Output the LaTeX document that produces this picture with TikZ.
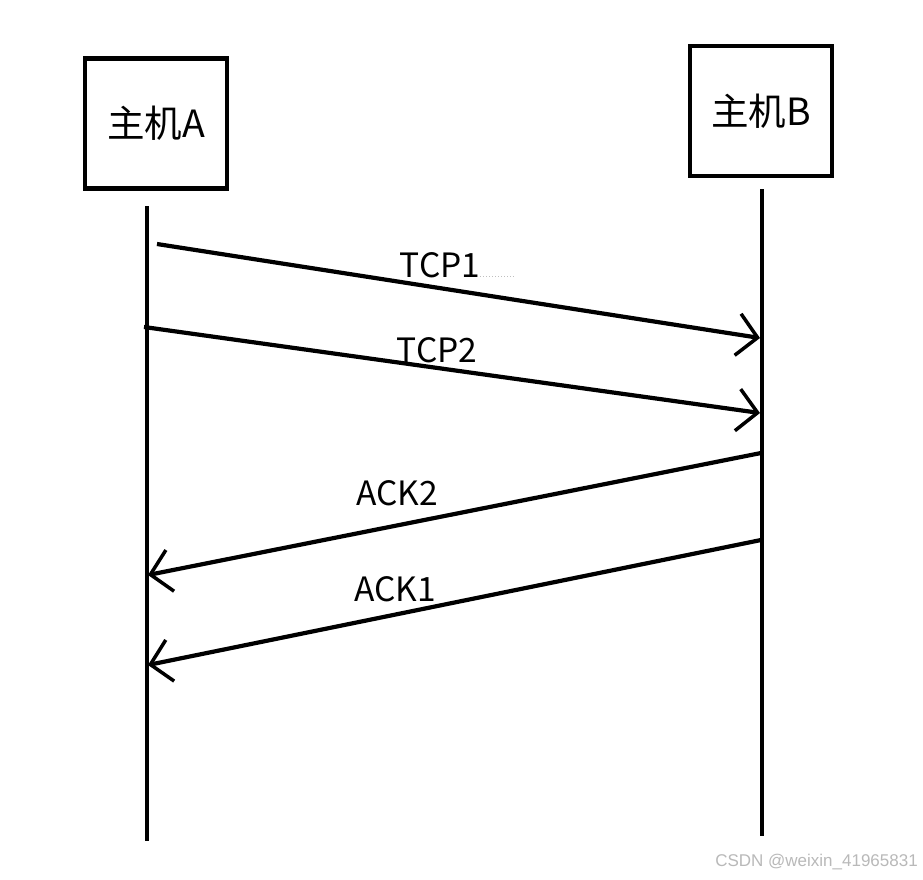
\documentclass[tikz,border=0pt]{standalone}
\usepackage{fontspec}
\usetikzlibrary{arrows.meta}
\newfontfamily\cjk{Noto Sans CJK SC}
\newfontfamily\wmfont{Liberation Sans}
\definecolor{wmgray}{RGB}{185,185,185}
\begin{document}
\begin{tikzpicture}[x=1pt,y=-1pt,
  hostbox/.style={draw=black,line width=4.5pt,minimum width=142pt,minimum height=130pt,inner sep=0pt,font=\cjk\fontsize{37.5}{42}\selectfont},
  lifeline/.style={line width=4.5pt},
  msg/.style={line width=4.2pt,-{Straight Barb[length=20pt,width=42pt,line width=3.5pt]}},
  msglabel/.style={font=\cjk\fontsize{33.5}{38}\selectfont,inner sep=0pt}]
\useasboundingbox (0,0) rectangle (923,879);
\fill[white] (0,0) rectangle (923,879);
% hosts
\node[hostbox] (hostA) at (156,123.5) {主机A};
\node[hostbox] (hostB) at (761,111) {主机B};
% lifelines
\coordinate (aTop) at (147,206);
\coordinate (aBot) at (147,841);
\coordinate (bTop) at (762,189);
\coordinate (bBot) at (762,836);
\draw[lifeline] (aTop) -- (aBot);
\draw[lifeline] (bTop) -- (bBot);
% messages
\coordinate (t1s) at (157,244);
\coordinate (t1e) at (760,338);
\coordinate (t2s) at (144,327);
\coordinate (t2e) at (760,413);
\coordinate (k2s) at (761,453);
\coordinate (k2e) at (148,575);
\coordinate (k1s) at (761,540);
\coordinate (k1e) at (148,665);
\draw[msg] (t1s) -- (t1e);
\draw[msg] (t2s) -- (t2e);
\draw[msg] (k2s) -- (k2e);
\draw[msg] (k1s) -- (k1e);
% labels
\node[msglabel] (l1) at (440,265) {TCP1};
\node[msglabel] (l2) at (437,350) {TCP2};
\node[msglabel] (l3) at (397,493) {ACK2};
\node[msglabel] (l4) at (395,589) {ACK1};
\coordinate (dotS) at (480,276);
\coordinate (dotE) at (514,276);
\draw[gray!50,line width=1pt,dotted] (dotS) -- (dotE);
% watermark
\node[font=\wmfont\fontsize{17}{19}\selectfont,text=wmgray,anchor=east,inner sep=0pt] (wm) at (918,862) {CSDN @weixin\_41965831};
\end{tikzpicture}
\end{document}
